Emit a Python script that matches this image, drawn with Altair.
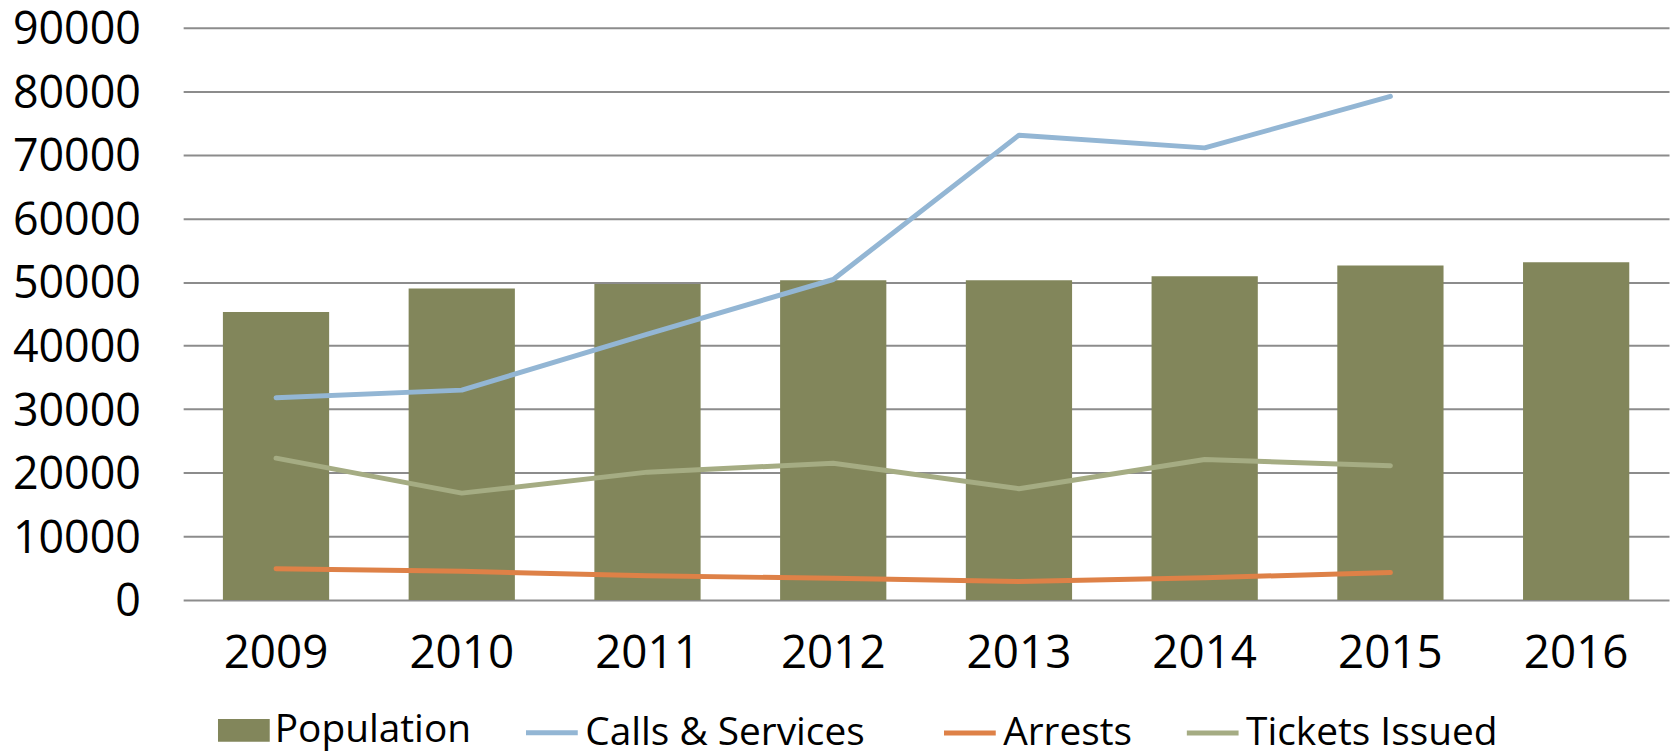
import altair as alt
import pandas as pd

years = ["2009", "2010", "2011", "2012", "2013", "2014", "2015", "2016"]
population = [45300, 49000, 49700, 50300, 50300, 50900, 52600, 53100]
calls = [31800, 33000, 41800, 50400, 73100, 71100, 79200]
arrests = [4900, 4500, 3800, 3400, 2900, 3500, 4300]
tickets = [22300, 16800, 20100, 21500, 17500, 22100, 21100]

bar_names = ["Population"]
bar_colors = ["#82865B"]
line_names = ["Calls & Services", "Arrests", "Tickets Issued"]
line_colors = ["#93B6D4", "#DE8147", "#A5AC83"]
y_ticks = [0, 10000, 20000, 30000, 40000, 50000, 60000, 70000, 80000, 90000]

bar_df = pd.DataFrame({"year": years, "series": "Population", "value": population})
rows = []
for name, vals in zip(line_names, [calls, arrests, tickets]):
    for i, v in enumerate(vals):
        rows.append({"year": years[i], "series": name, "value": v, "order": i})
line_df = pd.DataFrame(rows)

FONT = "Open Sans"

common_legend = dict(
    title=None,
    orient="none",
    direction="horizontal",
    padding=0,
    symbolSize=2704,
    labelFont=FONT,
    labelFontSize=39,
    labelColor="black",
    labelOffset=5,
    labelLimit=500,
    symbolOpacity=1,
    legendY=680,
)

bar_legend = alt.Legend(
    legendX=35,
    symbolType="M-1,-0.44H1V0.44H-1Z",
    symbolStrokeWidth=0,
    columnPadding=50,
    **common_legend,
)
calls_legend = alt.Legend(
    legendX=342,
    symbolType="stroke",
    symbolStrokeWidth=5,
    values=["Calls & Services"],
    columnPadding=50,
    **common_legend,
)
other_legend = alt.Legend(
    legendX=762,
    symbolType="stroke",
    symbolStrokeWidth=5,
    columnPadding=44,
    **common_legend,
)

x_enc = alt.X(
    "year:N",
    sort=years,
    scale=alt.Scale(paddingInner=0.428, paddingOuter=0.214),
    axis=alt.Axis(
        title=None,
        labelAngle=0,
        labelFont=FONT,
        labelFontSize=46,
        labelColor="black",
        labelPadding=32,
        ticks=False,
        tickSize=0,
        domain=False,
        grid=False,
    ),
)
y_enc = alt.Y(
    "value:Q",
    scale=alt.Scale(domain=[0, 90000], nice=False),
    axis=alt.Axis(
        title=None,
        values=y_ticks,
        format="d",
        labelFont=FONT,
        labelFontSize=45,
        labelColor="black",
        labelPadding=43,
        labelOffset=2,
        ticks=False,
        tickSize=0,
        domain=False,
        grid=True,
        gridColor="#8C8C8C",
        gridWidth=2,
    ),
)

bars = (
    alt.Chart(bar_df)
    .mark_bar(opacity=1)
    .encode(
        x=x_enc,
        y=y_enc,
        fill=alt.Fill("series:N", scale=alt.Scale(domain=bar_names, range=bar_colors), legend=bar_legend),
    )
)

lines = (
    alt.Chart(line_df)
    .mark_line(strokeWidth=5, strokeCap="round", strokeJoin="round")
    .encode(
        x=x_enc,
        y=y_enc,
        stroke=alt.Stroke("series:N", scale=alt.Scale(domain=line_names, range=line_colors), legend=calls_legend),
        order="order:Q",
    )
)

# legend-only layer (no rows drawn) for the remaining two line series
legend_only = (
    alt.Chart(line_df)
    .transform_filter("false")
    .mark_line(strokeWidth=5, strokeCap="round")
    .encode(
        x=x_enc,
        y=y_enc,
        color=alt.Color(
            "series:N",
            scale=alt.Scale(domain=line_names[1:], range=line_colors[1:]),
            legend=other_legend,
        ),
    )
)

chart = (
    alt.layer(bars, lines, legend_only)
    .resolve_scale(fill="independent", stroke="independent", color="independent")
    .properties(
        width=1493,
        height=575,
        padding={"left": 176, "top": 18, "right": 3, "bottom": 154},
        autosize=alt.AutoSizeParams(type="none"),
        background="white",
    )
    .configure_view(stroke=None)
)

chart.save("out.html", embed_options={"renderer": "svg", "actions": False})
